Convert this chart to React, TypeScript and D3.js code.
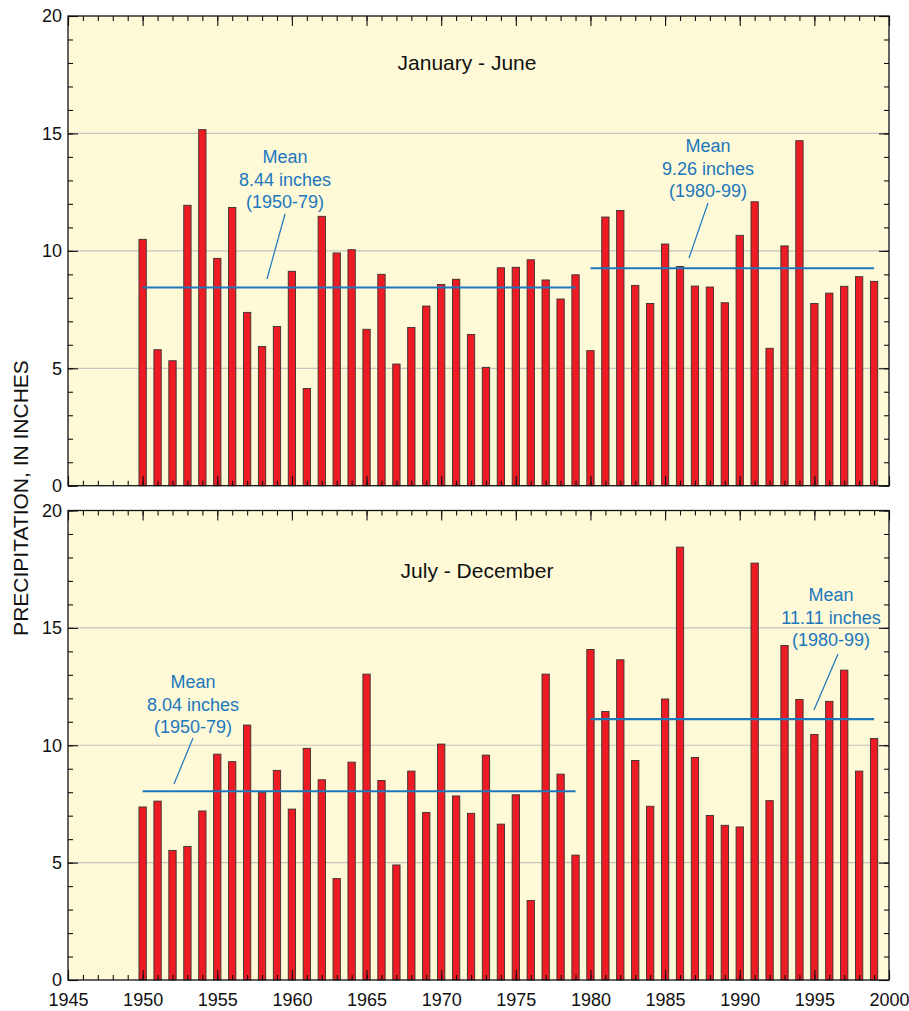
import { useEffect, useRef } from 'react';
import * as d3 from 'd3';

const years = [
    1950, 1951, 1952, 1953, 1954, 1955, 1956, 1957, 1958, 1959,
    1960, 1961, 1962, 1963, 1964, 1965, 1966, 1967, 1968, 1969,
    1970, 1971, 1972, 1973, 1974, 1975, 1976, 1977, 1978, 1979,
    1980, 1981, 1982, 1983, 1984, 1985, 1986, 1987, 1988, 1989,
    1990, 1991, 1992, 1993, 1994, 1995, 1996, 1997, 1998, 1999,
];

// January - June precipitation, inches
const janJune = [
    10.49, 5.79, 5.32, 11.94, 15.16, 9.68, 11.85, 7.38, 5.93, 6.78,
    9.13, 4.14, 11.47, 9.91, 10.05, 6.66, 9.0, 5.18, 6.74, 7.65,
    8.57, 8.79, 6.44, 5.04, 9.28, 9.3, 9.62, 8.76, 7.95, 8.98,
    5.75, 11.44, 11.72, 8.53, 7.76, 10.29, 9.33, 8.5, 8.46, 7.79,
    10.66, 12.09, 5.85, 10.21, 14.69, 7.76, 8.2, 8.49, 8.9, 8.7,
];

// July - December precipitation, inches
const julDec = [
    7.37, 7.62, 5.52, 5.69, 7.2, 9.62, 9.3, 10.86, 7.98, 8.93,
    7.28, 9.87, 8.53, 4.32, 9.28, 13.03, 8.5, 4.9, 8.9, 7.14,
    10.05, 7.84, 7.1, 9.58, 6.64, 7.89, 3.39, 13.03, 8.77, 5.32,
    14.08, 11.44, 13.64, 9.35, 7.4, 11.97, 18.44, 9.48, 7.01, 6.59,
    6.52, 17.76, 7.64, 14.25, 11.95, 10.46, 11.87, 13.2, 8.9, 10.29,
];

const yTicks = [0, 5, 10, 15, 20];
const xTicks = [1945, 1950, 1955, 1960, 1965, 1970, 1975, 1980, 1985, 1990, 1995, 2000];
const gridValues = [5, 10, 15];

const janJuneMeans = [
    { value: 8.44, from: 1950, to: 1979, lines: ['Mean', '8.44 inches', '(1950-79)'] },
    { value: 9.26, from: 1980, to: 1999, lines: ['Mean', '9.26 inches', '(1980-99)'] },
];
const julDecMeans = [
    { value: 8.04, from: 1950, to: 1979, lines: ['Mean', '8.04 inches', '(1950-79)'] },
    { value: 11.11, from: 1980, to: 1999, lines: ['Mean', '11.11 inches', '(1980-99)'] },
];

const FONT = '"Liberation Sans", Arial, Helvetica, sans-serif';
const BLUE = '#1C77BE';

// annotation placement (pixels): text centre, first baseline, leader line
const annLayout = [
    [
        { cx: 285, y0: 163, leader: [285, 214, 267, 279] },
        { cx: 708, y0: 152, leader: [708, 203, 689, 258] },
    ],
    [
        { cx: 193, y0: 688, leader: [193, 738, 174, 784] },
        { cx: 831, y0: 601, leader: [838, 654, 814, 710] },
    ],
];

const panels = [
    { title: 'January - June', values: janJune, means: janJuneMeans, top: 16, bottom: 485.7, titleX: 467, titleY: 70, xLabels: false },
    { title: 'July - December', values: julDec, means: julDecMeans, top: 510.5, bottom: 980, titleX: 477, titleY: 578, xLabels: true },
];

export default function App() {
    const svgRef = useRef<SVGSVGElement>(null);

    useEffect(() => {
        if (!svgRef.current) return;
        const svg = d3.select(svgRef.current);
        svg.selectAll('*').remove();

        const left = 68, right = 889;
        const x = d3.scaleLinear().domain([1945, 2000]).range([left, right]);
        const bw = (x(1946) - x(1945)) * 0.49;
        const minorX = d3.range(1945, 2001);
        const minorY = d3.range(0, 21);

        panels.forEach((p, pi) => {
            const y = d3.scaleLinear().domain([0, 20]).range([p.bottom, p.top]);
            const g = svg.append('g');

            g.append('rect')
                .attr('x', left).attr('y', p.top)
                .attr('width', right - left).attr('height', p.bottom - p.top)
                .attr('fill', '#FEF9D6');

            // gridlines
            g.selectAll('.grid')
                .data(gridValues)
                .join('line')
                .attr('x1', left).attr('x2', right)
                .attr('y1', d => y(d)).attr('y2', d => y(d))
                .attr('stroke', '#C4C4C0').attr('stroke-width', 1.2);

            // bars
            g.selectAll('.bar')
                .data(years)
                .join('rect')
                .attr('x', d => x(d) - bw / 2)
                .attr('y', (_, i) => y(p.values[i]))
                .attr('width', bw)
                .attr('height', (_, i) => y(0) - y(p.values[i]))
                .attr('fill', '#ED1C24')
                .attr('stroke', '#3a3030').attr('stroke-width', 0.9);

            // mean lines
            g.selectAll('.mean')
                .data(p.means)
                .join('line')
                .attr('x1', d => x(d.from)).attr('x2', d => x(d.to))
                .attr('y1', d => y(d.value)).attr('y2', d => y(d.value))
                .attr('stroke', BLUE).attr('stroke-width', 2.2);

            // annotations
            p.means.forEach((m, mi) => {
                const a = annLayout[pi][mi];
                const t = g.append('text')
                    .attr('text-anchor', 'middle')
                    .attr('font-family', FONT).attr('font-size', 18)
                    .attr('fill', BLUE);
                m.lines.forEach((ln, li) => {
                    t.append('tspan').attr('x', a.cx).attr('y', a.y0 + li * 22.5).text(ln);
                });
                g.append('line')
                    .attr('x1', a.leader[0]).attr('y1', a.leader[1])
                    .attr('x2', a.leader[2]).attr('y2', a.leader[3])
                    .attr('stroke', BLUE).attr('stroke-width', 1.2);
            });

            // title
            g.append('text')
                .attr('x', p.titleX).attr('y', p.titleY)
                .attr('text-anchor', 'middle')
                .attr('font-family', FONT).attr('font-size', 21)
                .attr('fill', '#111')
                .text(p.title);

            const styleAxis = (sel: any) => {
                sel.select('.domain').remove();
                sel.selectAll('line').attr('stroke', '#111').attr('stroke-width', 1.1);
                sel.selectAll('text').attr('font-family', FONT).attr('font-size', 18).attr('fill', '#111');
            };

            // x ticks (bottom and top, inward)
            g.append('g').attr('transform', `translate(0,${p.bottom})`)
                .call(d3.axisBottom(x).tickValues(minorX).tickSize(-5).tickFormat(() => ''))
                .call(styleAxis);
            const xb = g.append('g').attr('transform', `translate(0,${p.bottom})`)
                .call(d3.axisBottom(x).tickValues(xTicks).tickSize(-10).tickPadding(13)
                    .tickFormat(d => (p.xLabels ? String(d) : '')))
                .call(styleAxis);
            xb.selectAll('text').attr('dy', '0.71em');
            g.append('g').attr('transform', `translate(0,${p.top})`)
                .call(d3.axisTop(x).tickValues(minorX).tickSize(-5).tickFormat(() => ''))
                .call(styleAxis);
            g.append('g').attr('transform', `translate(0,${p.top})`)
                .call(d3.axisTop(x).tickValues(xTicks).tickSize(-10).tickFormat(() => ''))
                .call(styleAxis);

            // y ticks (left and right, inward)
            g.append('g').attr('transform', `translate(${left},0)`)
                .call(d3.axisLeft(y).tickValues(minorY).tickSize(-5).tickFormat(() => ''))
                .call(styleAxis);
            g.append('g').attr('transform', `translate(${left},0)`)
                .call(d3.axisLeft(y).tickValues(yTicks).tickSize(-10).tickPadding(6).tickFormat(d3.format('d')))
                .call(styleAxis);
            g.append('g').attr('transform', `translate(${right},0)`)
                .call(d3.axisRight(y).tickValues(minorY).tickSize(-5).tickFormat(() => ''))
                .call(styleAxis);
            g.append('g').attr('transform', `translate(${right},0)`)
                .call(d3.axisRight(y).tickValues(yTicks).tickSize(-10).tickFormat(() => ''))
                .call(styleAxis);

            // frame
            g.append('rect')
                .attr('x', left).attr('y', p.top)
                .attr('width', right - left).attr('height', p.bottom - p.top)
                .attr('fill', 'none').attr('stroke', '#111').attr('stroke-width', 1.3);
        });

        // y axis label
        svg.append('text')
            .attr('transform', 'translate(28,498) rotate(-90)')
            .attr('text-anchor', 'middle')
            .attr('font-family', FONT).attr('font-size', 21)
            .attr('fill', '#111')
            .text('PRECIPITATION, IN INCHES');
    }, []);

    return (
        <svg
            ref={svgRef}
            width={909}
            height={1011}
            style={{ position: 'absolute', left: 0, top: 0, background: '#fff' }}
        />
    );
}
